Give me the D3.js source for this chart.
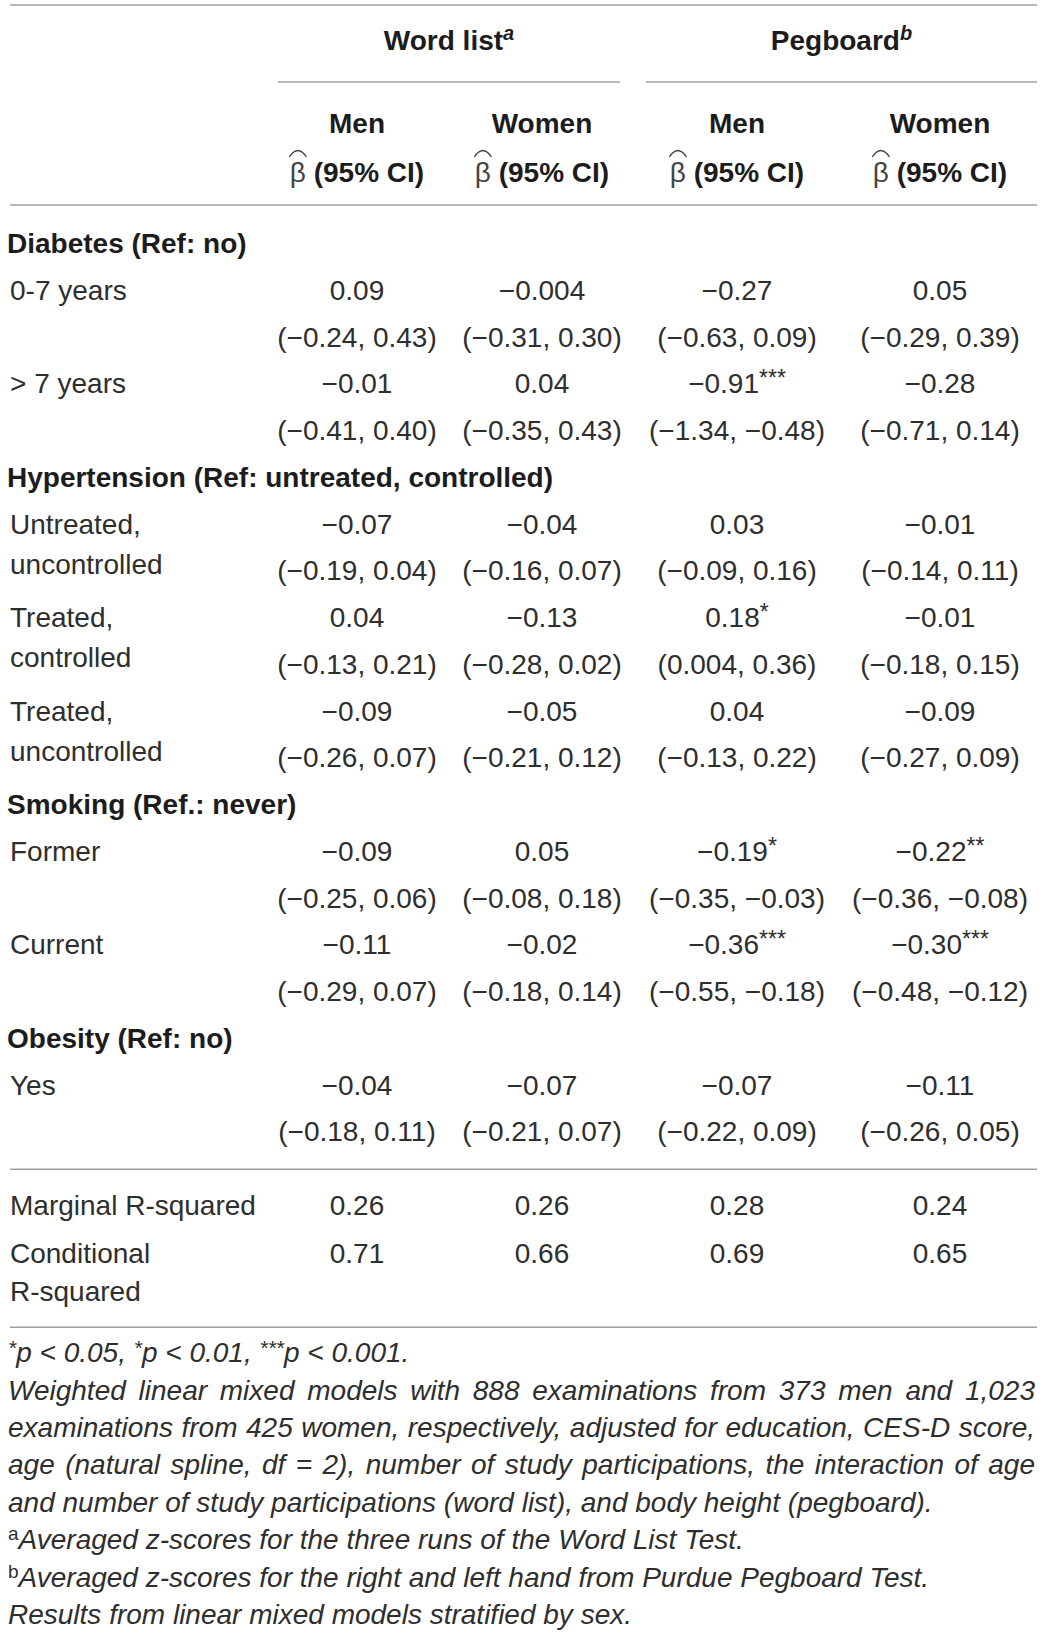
<!DOCTYPE html>
<html>
<head>
<meta charset="utf-8">
<script src="https://cdn.jsdelivr.net/npm/d3@7"></script>
<style>
  body { margin: 0; background: #fff; }
  text { font-family: "Liberation Sans", Arial, sans-serif; }
</style>
</head>
<body>
<svg id="table" width="1043" height="1638"></svg>
<script>
// table content
var groupNames = ["Word list", "Pegboard"];
var groupSups = ["a", "b"];
var sexNames = ["Men", "Women", "Men", "Women"];

var sectionTitles = [
    "Diabetes (Ref: no)",
    "Hypertension (Ref: untreated, controlled)",
    "Smoking (Ref.: never)",
    "Obesity (Ref: no)"
];
var rowSection = [0, 0, 1, 1, 1, 2, 2, 3];
var rowLabels = [
    ["0-7 years"],
    ["> 7 years"],
    ["Untreated,", "uncontrolled"],
    ["Treated,", "controlled"],
    ["Treated,", "uncontrolled"],
    ["Former"],
    ["Current"],
    ["Yes"]
];
var estimates = [
    ["0.09", "\u22120.004", "\u22120.27", "0.05"],
    ["\u22120.01", "0.04", "\u22120.91", "\u22120.28"],
    ["\u22120.07", "\u22120.04", "0.03", "\u22120.01"],
    ["0.04", "\u22120.13", "0.18", "\u22120.01"],
    ["\u22120.09", "\u22120.05", "0.04", "\u22120.09"],
    ["\u22120.09", "0.05", "\u22120.19", "\u22120.22"],
    ["\u22120.11", "\u22120.02", "\u22120.36", "\u22120.30"],
    ["\u22120.04", "\u22120.07", "\u22120.07", "\u22120.11"]
];
var stars = [
    ["", "", "", ""],
    ["", "", "***", ""],
    ["", "", "", ""],
    ["", "", "*", ""],
    ["", "", "", ""],
    ["", "", "*", "**"],
    ["", "", "***", "***"],
    ["", "", "", ""]
];
var intervals = [
    ["(\u22120.24, 0.43)", "(\u22120.31, 0.30)", "(\u22120.63, 0.09)", "(\u22120.29, 0.39)"],
    ["(\u22120.41, 0.40)", "(\u22120.35, 0.43)", "(\u22121.34, \u22120.48)", "(\u22120.71, 0.14)"],
    ["(\u22120.19, 0.04)", "(\u22120.16, 0.07)", "(\u22120.09, 0.16)", "(\u22120.14, 0.11)"],
    ["(\u22120.13, 0.21)", "(\u22120.28, 0.02)", "(0.004, 0.36)", "(\u22120.18, 0.15)"],
    ["(\u22120.26, 0.07)", "(\u22120.21, 0.12)", "(\u22120.13, 0.22)", "(\u22120.27, 0.09)"],
    ["(\u22120.25, 0.06)", "(\u22120.08, 0.18)", "(\u22120.35, \u22120.03)", "(\u22120.36, \u22120.08)"],
    ["(\u22120.29, 0.07)", "(\u22120.18, 0.14)", "(\u22120.55, \u22120.18)", "(\u22120.48, \u22120.12)"],
    ["(\u22120.18, 0.11)", "(\u22120.21, 0.07)", "(\u22120.22, 0.09)", "(\u22120.26, 0.05)"]
];
var fitLabels = [["Marginal R-squared"], ["Conditional", "R-squared"]];
var fitValues = [
    ["0.26", "0.26", "0.28", "0.24"],
    ["0.71", "0.66", "0.69", "0.65"]
];
var noteParagraph = [
    "Weighted linear mixed models with 888 examinations from 373 men and 1,023",
    "examinations from 425 women, respectively, adjusted for education, CES-D score,",
    "age (natural spline, df = 2), number of study participations, the interaction of age",
    "and number of study participations (word list), and body height (pegboard)."
];
var noteSups = ["a", "b"];
var noteSupTexts = [
    "Averaged z-scores for the three runs of the Word List Test.",
    "Averaged z-scores for the right and left hand from Purdue Pegboard Test."
];
var noteLast = "Results from linear mixed models stratified by sex.";

// layout
var svg = d3.select('#table');
var fontSize = 28;
var textColor = '#2e2e2e';
var boldColor = '#1c1c1c';
var ruleColor = '#a0a0a0';
var left = 10, right = 1037;

var colX = d3.scaleOrdinal()
    .domain(d3.range(4))
    .range([357, 542, 737, 940]);

var groupRule = d3.scaleOrdinal()
    .domain([0, 1])
    .range([[278, 620], [646, 1037]]);

function rule(y, x0, x1) {
    svg.append('line')
        .attr('x1', x0).attr('x2', x1)
        .attr('y1', y).attr('y2', y)
        .attr('stroke', ruleColor)
        .attr('stroke-width', 1.6);
}

// header
rule(5, left, right);

groupNames.forEach(function(name, i) {
    var span = groupRule(i);
    var t = svg.append('text')
        .attr('x', (span[0] + span[1]) / 2)
        .attr('y', 50)
        .attr('text-anchor', 'middle')
        .attr('font-size', fontSize)
        .attr('font-weight', 'bold')
        .attr('fill', boldColor);
    t.append('tspan').text(name);
    t.append('tspan')
        .attr('font-style', 'italic')
        .attr('font-size', 20)
        .attr('dy', -10)
        .text(groupSups[i]);
    rule(82, span[0], span[1]);
});

sexNames.forEach(function(name, i) {
    svg.append('text')
        .attr('x', colX(i))
        .attr('y', 133)
        .attr('text-anchor', 'middle')
        .attr('font-size', fontSize)
        .attr('font-weight', 'bold')
        .attr('fill', boldColor)
        .text(name);

    var t = svg.append('text')
        .attr('x', colX(i))
        .attr('y', 182)
        .attr('text-anchor', 'middle')
        .attr('font-size', fontSize)
        .attr('fill', boldColor);
    t.append('tspan')
        .attr('font-weight', 'normal')
        .attr('fill', '#444')
        .text('\u03b2');
    t.append('tspan')
        .attr('font-weight', 'bold')
        .text(' (95% CI)');

    // wide hat over beta
    var node = t.node();
    var a = node.getStartPositionOfChar(0).x;
    var b = node.getEndPositionOfChar(0).x;
    svg.append('path')
        .attr('d', 'M' + (a - 0.5) + ',' + (182 - 25) +
            ' Q' + ((a + b) / 2) + ',' + (182 - 38) + ' ' + (b + 0.5) + ',' + (182 - 25))
        .attr('fill', 'none')
        .attr('stroke', '#444')
        .attr('stroke-width', 1.3);
});

rule(205, left, right);

// body rows
var step = 46.75;
var y = 253;

function valueText(x, yy, value, star) {
    var t = svg.append('text')
        .attr('x', x)
        .attr('y', yy)
        .attr('text-anchor', 'middle')
        .attr('font-size', fontSize)
        .attr('fill', textColor);
    t.append('tspan').text(value);
    if (star) {
        t.append('tspan')
            .attr('font-size', 23)
            .attr('dy', -7)
            .text(star);
    }
}

function labelText(lines, yy, gap) {
    lines.forEach(function(line, k) {
        svg.append('text')
            .attr('x', left)
            .attr('y', yy + k * gap)
            .attr('font-size', fontSize)
            .attr('fill', textColor)
            .text(line);
    });
}

sectionTitles.forEach(function(title, s) {
    svg.append('text')
        .attr('x', 7)
        .attr('y', y)
        .attr('font-size', fontSize)
        .attr('font-weight', 'bold')
        .attr('fill', boldColor)
        .text(title);
    y += step;

    rowSection.forEach(function(sec, r) {
        if (sec !== s) return;
        labelText(rowLabels[r], y, 40);
        estimates[r].forEach(function(v, c) {
            valueText(colX(c), y, v, stars[r][c]);
            valueText(colX(c), y + step, intervals[r][c], '');
        });
        y += 2 * step;
    });
});

var ruleY = y - step + 28;
rule(ruleY, left, right);

var fitY = [ruleY + 46, ruleY + 94];
fitLabels.forEach(function(lines, r) {
    labelText(lines, fitY[r], 38);
    fitValues[r].forEach(function(v, c) {
        valueText(colX(c), fitY[r], v, '');
    });
});

var noteRule = fitY[1] + 64;
rule(noteRule, left, right);

// footnotes
var noteStep = 37.4;
var noteY = noteRule + 35;
var noteX0 = 8, noteX1 = 1035;

var p = svg.append('text')
    .attr('x', noteX0)
    .attr('y', noteY)
    .attr('font-size', fontSize)
    .attr('font-style', 'italic')
    .attr('fill', textColor);
[['*', 'p < 0.05, '], ['*', 'p < 0.01, '], ['***', 'p < 0.001.']].forEach(function(part) {
    p.append('tspan').attr('font-size', 21).attr('dy', -7).text(part[0]);
    p.append('tspan').attr('dy', 7).text(part[1]);
});

function justified(line, yy, stretch) {
    var words = line.split(' ');
    var nodes = words.map(function(w) {
        return svg.append('text')
            .attr('y', yy)
            .attr('font-size', fontSize)
            .attr('font-style', 'italic')
            .attr('fill', textColor)
            .text(w);
    });
    var widths = nodes.map(function(n) { return n.node().getComputedTextLength(); });
    var space = fontSize * 0.278;
    if (stretch) {
        space = (noteX1 - noteX0 - d3.sum(widths)) / (words.length - 1);
    }
    var x = noteX0;
    nodes.forEach(function(n, i) {
        n.attr('x', x);
        x += widths[i] + space;
    });
}

noteParagraph.forEach(function(line, i) {
    justified(line, noteY + (i + 1) * noteStep, i < noteParagraph.length - 1);
});

noteSups.forEach(function(sup, i) {
    var t = svg.append('text')
        .attr('x', noteX0)
        .attr('y', noteY + (5 + i) * noteStep)
        .attr('font-size', fontSize)
        .attr('fill', textColor);
    t.append('tspan').attr('font-size', 19).attr('dy', -9).text(sup);
    t.append('tspan').attr('dy', 9).attr('font-style', 'italic').text(noteSupTexts[i]);
});

svg.append('text')
    .attr('x', noteX0)
    .attr('y', noteY + 7 * noteStep)
    .attr('font-size', fontSize)
    .attr('font-style', 'italic')
    .attr('fill', textColor)
    .text(noteLast);
</script>
</body>
</html>
